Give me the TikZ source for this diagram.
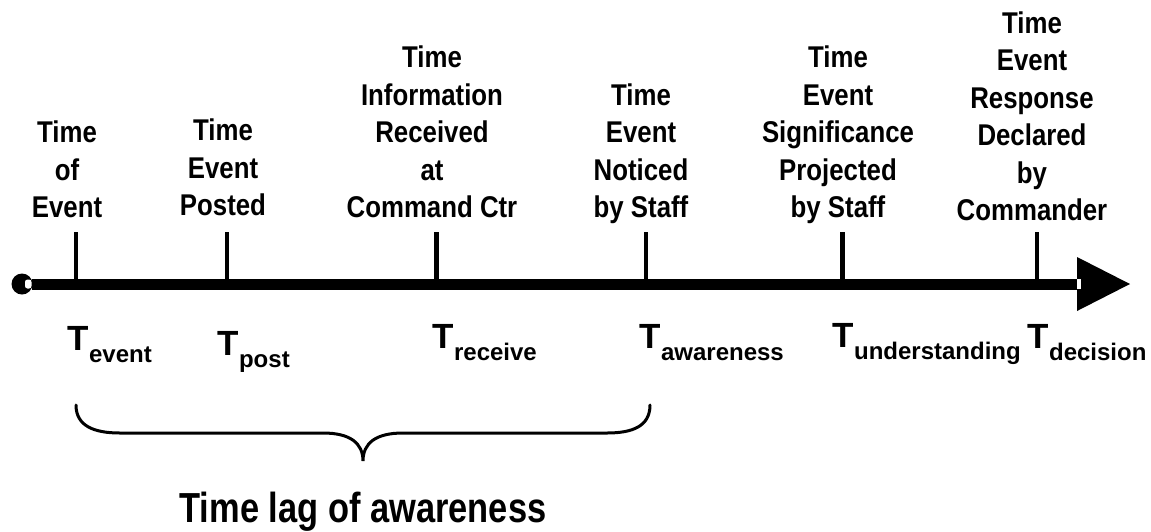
\documentclass[tikz,border=0pt]{standalone}
\usepackage{fontspec}
\setmainfont{Liberation Sans}
\newfontfamily\lblfont{Liberation Sans}[FakeStretch=0.86]
\newfontfamily\lagfont{Liberation Sans}[FakeStretch=0.82]
\tikzset{
  lbl/.style={font=\fontsize{30}{37.5}\selectfont\lblfont\bfseries,
    align=center, anchor=south, inner sep=0pt},
  tlab/.style={font=\fontsize{35}{35}\selectfont\bfseries,
    anchor=base west, inner sep=0pt},
  axisline/.style={line width=11pt},
  tickline/.style={line width=4.5pt},
  braceline/.style={line width=3pt, line cap=round},
}
\newcommand{\sublab}[1]{\raisebox{-12pt}{\fontsize{24}{24}\selectfont #1}}
\begin{document}
\begin{tikzpicture}[x=1pt,y=-1pt]
\useasboundingbox (0,0) rectangle (1151,531);

% axis ends
\coordinate (a0) at (31.5,284);
\coordinate (a1) at (1077,284);
\fill (22,284) circle (10.5);
\fill[white, rounded corners=2.5pt] (25,279.5) rectangle (31.5,288.5);
\draw[axisline] (a0) -- (a1);
\fill (1077,257) -- (1130,284) -- (1077,311) -- cycle;
\fill[white] (1077,279) rectangle (1081,289);

% ticks on the time axis
\foreach \n/\x in {1/76, 2/227, 3/436.5, 4/646, 5/842.5, 6/1037}{
  \coordinate (b\n) at (\x,284);
  \coordinate (t\n) at (\x,232);
  \draw[tickline] (b\n) -- (t\n);
}

% milestone descriptions
\node[lbl] (l1) at (67,224.4)   {Time\\of\\Event\vphantom{y}};
\node[lbl] (l2) at (223,222.4)  {Time\\Event\\Posted\vphantom{y}};
\node[lbl] (l3) at (432,224.4)  {Time\\Information\\Received\\at\\Command Ctr\vphantom{y}};
\node[lbl] (l4) at (641,224.4)  {Time\\Event\\Noticed\\by Staff};
\node[lbl] (l5) at (838,224.4)  {Time\\Event\\Significance\\Projected\\by Staff};
\node[lbl] (l6) at (1032,227.4) {Time\\Event\\Response\\Declared\\by\\Commander\vphantom{y}};

% time symbols
\node[tlab] (s1) at (67.5,350)  {T\sublab{event}};
\node[tlab] (s2) at (217.5,355) {T\sublab{post}};
\node[tlab] (s3) at (432.5,348) {T\sublab{receive}};
\node[tlab] (s4) at (639.5,348) {T\sublab{awareness}};
\node[tlab] (s5) at (832.5,347) {T\sublab{understanding}};
\node[tlab] (s6) at (1027.5,348){T\sublab{decision}};

% brace spanning event to awareness
\coordinate (bl) at (76,405);
\coordinate (br) at (650,405);
\coordinate (bt) at (363,461);
\draw[braceline] (bl) .. controls (76,426) and (94,433) .. (120,433)
  -- (323,433) .. controls (350,433) and (363,443) .. (bt)
  .. controls (363,443) and (376,433) .. (403,433)
  -- (607,433) .. controls (633,433) and (650,426) .. (br);
\node[font=\fontsize{42}{42}\selectfont\lagfont\bfseries, anchor=base, inner sep=0pt]
  (lag) at (363,522) {Time lag of awareness};
\end{tikzpicture}
\end{document}
